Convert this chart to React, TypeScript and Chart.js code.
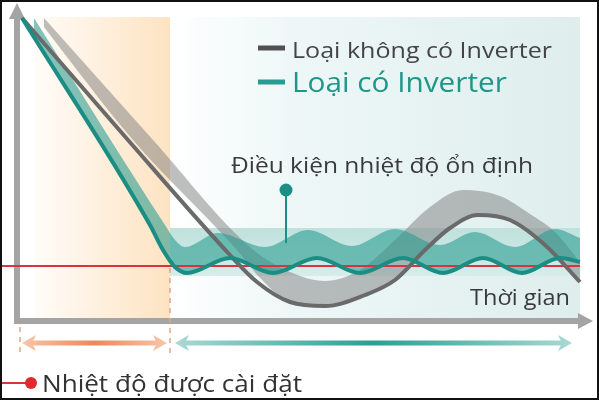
import { useEffect, useRef } from 'react';
import { Chart, registerables } from 'chart.js';

Chart.register(...registerables);

// Schematic values: time in arbitrary units, temperature in °C
const inverterTime = [1, 26.6, 29.2, 31.6, 34, 42.6, 51.2, 60, 68.6, 77.2, 85.2, 93.2, 101, 108.6, 112.6];
const inverterTemp = [36.4, 26.05, 24.8, 23.95, 23.65, 24.4, 23.65, 24.4, 23.65, 24.4, 23.65, 24.4, 23.65, 24.4, 24.2];

const inverterBandTime = [3.4, 29.6, 31.6, 33.6, 40.2, 49.6, 58.2, 67, 75.6, 84.6, 91.6, 99.6, 107.6, 112.6];
const inverterBandTemp = [36.4, 26.05, 25.3, 24.95, 25.65, 24.95, 25.8, 25.0, 25.85, 25.05, 25.7, 24.95, 25.85, 25.4];

const noInverterTime = [1, 22.2, 42.6, 48, 54.6, 61.6, 69.6, 75.6, 81.6, 86.6, 92.2, 98.6, 105.6, 112.6];
const noInverterTemp = [36.4, 30.3, 24.55, 23.2, 22.2, 22.0, 22.55, 23.3, 24.8, 25.9, 26.55, 26.3, 25.05, 23.2];

// grey ribbon: upper and lower edges
const noInverterBandTime = [5.4, 27.2, 46.6, 54.6, 61.6, 68.6, 75.6, 82.6, 89.2, 96.6, 102.6, 107.6, 112.6];
const noInverterBandTemp = [36.4, 30.3, 24.95, 23.7, 23.25, 23.8, 25.3, 26.95, 27.8, 27.5, 26.6, 25.7, 24.2];
const noInverterEdgeTime = [4, 23.2, 44, 49, 54.6, 61.6, 69.6, 75.6, 81.6, 86.6, 92.2, 98.6, 105.6, 112.6];
const noInverterEdgeTemp = [36.4, 30.3, 24.8, 23.3, 22.2, 22.0, 22.55, 23.3, 24.8, 25.9, 26.55, 26.3, 25.05, 23.2];

const SETPOINT = 24;
const setpointTime = [-3.4, 112.6];

// regions of the diagram
const COOL_START = 3.6;
const COOL_END = 30.6;
const TIME_END = 112.6;
const PANEL_TOP = 36.45;
const AXIS_TEMP = 21.25;
const STABLE_LOW = 23.5;
const STABLE_HIGH = 25.9;
const PIN_TIME = 53.8;
const PIN_TOP = 27.8;
const PIN_BOTTOM = 25.15;

const X_MIN = -3.4;
const X_MAX = 116.4;
const Y_MIN = 17.3;
const Y_MAX = 37.3;

const toPoints = (xs: number[], ys: number[]) => xs.map((x, i) => ({ x, y: ys[i] }));

const FONT = '"Open Sans", "Noto Sans", sans-serif';

function fitText(ctx: CanvasRenderingContext2D, text: string, x: number, y: number, width: number, size: number, color: string) {
  ctx.save();
  ctx.font = `400 ${size}px ${FONT}`;
  const w = ctx.measureText(text).width;
  ctx.translate(x, y);
  ctx.scale(width / w, 1);
  ctx.fillStyle = color;
  ctx.textBaseline = 'alphabetic';
  ctx.fillText(text, 0, 0);
  ctx.restore();
}

function doubleArrow(ctx: CanvasRenderingContext2D, x1: number, x2: number, y: number, edge: string, mid: string) {
  const g = ctx.createLinearGradient(x1, 0, x2, 0);
  g.addColorStop(0, edge);
  g.addColorStop(0.5, mid);
  g.addColorStop(1, edge);
  ctx.strokeStyle = g;
  ctx.fillStyle = g;
  ctx.lineWidth = 5;
  ctx.beginPath();
  ctx.moveTo(x1 + 8, y);
  ctx.lineTo(x2 - 8, y);
  ctx.stroke();
  ctx.beginPath();
  ctx.moveTo(x1, y);
  ctx.lineTo(x1 + 14, y - 8);
  ctx.lineTo(x1 + 10, y);
  ctx.lineTo(x1 + 14, y + 8);
  ctx.closePath();
  ctx.fill();
  ctx.beginPath();
  ctx.moveTo(x2, y);
  ctx.lineTo(x2 - 14, y - 8);
  ctx.lineTo(x2 - 10, y);
  ctx.lineTo(x2 - 14, y + 8);
  ctx.closePath();
  ctx.fill();
}

const decor = {
  id: 'decor',
  beforeDraw(chart: any) {
    const { ctx, scales: { x, y } } = chart;
    const top = y.getPixelForValue(PANEL_TOP);
    const base = y.getPixelForValue(AXIS_TEMP);
    const c0 = x.getPixelForValue(COOL_START);
    const c1 = x.getPixelForValue(COOL_END);
    const e = x.getPixelForValue(TIME_END);
    ctx.save();
    ctx.fillStyle = '#ffffff';
    ctx.fillRect(0, 0, chart.width, chart.height);

    // cooling phase
    let g = ctx.createLinearGradient(c0, 0, c1, 0);
    g.addColorStop(0, '#fffcf8');
    g.addColorStop(1, '#fde3c2');
    ctx.fillStyle = g;
    ctx.fillRect(c0, top, c1 - c0, base - top);

    // stable phase panel
    g = ctx.createLinearGradient(c1, 0, e, 0);
    g.addColorStop(0, '#ffffff');
    g.addColorStop(0.3, '#eef7f7');
    g.addColorStop(1, '#deeeed');
    ctx.fillStyle = g;
    ctx.fillRect(c1, top, e - c1, base - top);

    // stable temperature band
    const b0 = y.getPixelForValue(STABLE_HIGH);
    const b1 = y.getPixelForValue(STABLE_LOW);
    g = ctx.createLinearGradient(0, b0, 0, b1);
    g.addColorStop(0, '#c0e1dd');
    g.addColorStop(1, '#d6edea');
    ctx.fillStyle = g;
    ctx.fillRect(c1, b0, e - c1, b1 - b0);

    // axes
    const ox = x.getPixelForValue(0);
    ctx.strokeStyle = '#a4a4a4';
    ctx.fillStyle = '#a4a4a4';
    ctx.lineWidth = 6;
    ctx.beginPath();
    ctx.moveTo(ox, base + 3);
    ctx.lineTo(ox, top + 2);
    ctx.moveTo(ox - 3, base);
    ctx.lineTo(579, base);
    ctx.stroke();
    ctx.beginPath();
    ctx.moveTo(ox - 8, top + 2);
    ctx.lineTo(ox + 8, top + 2);
    ctx.lineTo(ox, 3);
    ctx.closePath();
    ctx.fill();
    ctx.beginPath();
    ctx.moveTo(578, base - 8);
    ctx.lineTo(578, base + 8);
    ctx.lineTo(593, base);
    ctx.closePath();
    ctx.fill();
    ctx.restore();
  },
  afterDatasetsDraw(chart: any) {
    const { ctx, scales: { x, y } } = chart;
    ctx.save();

    // pin of the stable condition label
    const pX = x.getPixelForValue(PIN_TIME);
    const pTop = y.getPixelForValue(PIN_TOP);
    ctx.strokeStyle = '#1c8f85';
    ctx.lineWidth = 2;
    ctx.beginPath();
    ctx.moveTo(pX, pTop);
    ctx.lineTo(pX, y.getPixelForValue(PIN_BOTTOM));
    ctx.stroke();
    ctx.fillStyle = '#1c8f85';
    ctx.beginPath();
    ctx.arc(pX, pTop, 6.5, 0, Math.PI * 2);
    ctx.fill();

    // legend
    ctx.lineWidth = 5;
    ctx.strokeStyle = '#505050';
    ctx.beginPath();
    ctx.moveTo(258, 48);
    ctx.lineTo(285, 48);
    ctx.stroke();
    ctx.strokeStyle = '#2a9b90';
    ctx.beginPath();
    ctx.moveTo(258, 82);
    ctx.lineTo(285, 82);
    ctx.stroke();
    fitText(ctx, 'Loại không có Inverter', 292, 58, 260, 22, '#444444');
    fitText(ctx, 'Loại có Inverter', 292, 92, 215, 27, '#1f968a');

    fitText(ctx, 'Điều kiện nhiệt độ ổn định', 231, 173, 302, 22, '#3a3a3a');
    fitText(ctx, 'Thời gian', 470, 305, 100, 22, '#3a3a3a');

    // phase markers
    const d0 = x.getPixelForValue(0.6);
    const d1 = x.getPixelForValue(COOL_END);
    ctx.strokeStyle = '#dea58a';
    ctx.lineWidth = 1.5;
    ctx.setLineDash([5, 5]);
    ctx.beginPath();
    ctx.moveTo(d0, 327);
    ctx.lineTo(d0, 356);
    ctx.moveTo(d1, y.getPixelForValue(SETPOINT) + 2);
    ctx.lineTo(d1, 356);
    ctx.stroke();
    ctx.setLineDash([]);
    doubleArrow(ctx, d0 + 2, d1 - 3, 343, '#f7c6a9', '#e9895c');
    doubleArrow(ctx, d1 + 5, 572, 343, '#aad9d3', '#2c9e94');

    // set temperature legend
    ctx.strokeStyle = '#d8353b';
    ctx.lineWidth = 2;
    ctx.beginPath();
    ctx.moveTo(0, 383);
    ctx.lineTo(28, 383);
    ctx.stroke();
    ctx.fillStyle = '#e02a30';
    ctx.beginPath();
    ctx.arc(31, 383, 6, 0, Math.PI * 2);
    ctx.fill();
    fitText(ctx, 'Nhiệt độ được cài đặt', 42, 392, 260, 24, '#333333');

    // frame
    ctx.strokeStyle = '#111111';
    ctx.lineWidth = 2;
    ctx.strokeRect(1, 1, chart.width - 2, chart.height - 2);
    ctx.restore();
  },
};

export default function App() {
  const canvasRef = useRef<HTMLCanvasElement>(null);

  useEffect(() => {
    if (!canvasRef.current) return;
    document.body.style.margin = '0';

    const chart = new Chart(canvasRef.current, {
      type: 'line',
      data: {
        datasets: [
          {
            label: 'Loại có Inverter',
            data: toPoints(inverterTime, inverterTemp),
            borderColor: '#1b8d83',
            borderWidth: 4,
            order: 1,
          },
          {
            label: 'Loại không có Inverter',
            data: toPoints(noInverterTime, noInverterTemp),
            borderColor: '#6a6a6a',
            borderWidth: 4,
            order: 2,
          },
          {
            label: 'Nhiệt độ được cài đặt',
            data: toPoints(setpointTime, [SETPOINT, SETPOINT]),
            borderColor: '#d8353b',
            borderWidth: 2,
            order: 3,
          },
          {
            label: 'inverter band',
            data: toPoints(inverterBandTime, inverterBandTemp),
            borderWidth: 0,
            borderColor: 'rgba(0,0,0,0)',
            backgroundColor: 'rgba(38, 155, 143, 0.58)',
            fill: 0,
            order: 4,
          },
          {
            label: 'no inverter band',
            data: toPoints(noInverterBandTime, noInverterBandTemp),
            borderWidth: 0,
            borderColor: 'rgba(0,0,0,0)',
            backgroundColor: 'rgba(125, 125, 125, 0.5)',
            fill: 5,
            order: 5,
          },
          {
            label: 'no inverter band edge',
            data: toPoints(noInverterEdgeTime, noInverterEdgeTemp),
            borderWidth: 0,
            borderColor: 'rgba(0,0,0,0)',
            fill: false,
            order: 6,
          },
        ] as any,
      },
      options: {
        animation: false,
        responsive: false,
        events: [],
        layout: { padding: 0 },
        elements: {
          point: { radius: 0 },
          line: { cubicInterpolationMode: 'monotone' },
        },
        plugins: {
          legend: { display: false },
          tooltip: { enabled: false },
        },
        scales: {
          x: { type: 'linear', display: false, min: X_MIN, max: X_MAX },
          y: { type: 'linear', display: false, min: Y_MIN, max: Y_MAX },
        },
      },
      plugins: [decor],
    });

    return () => chart.destroy();
  }, []);

  return (
    <div style={{ position: 'absolute', left: 0, top: 0, width: 599, height: 400 }}>
      <canvas ref={canvasRef} width={599} height={400} style={{ width: 599, height: 400 }} />
    </div>
  );
}
